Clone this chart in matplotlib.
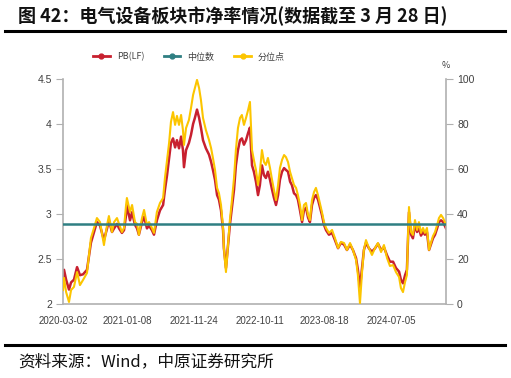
import matplotlib
matplotlib.use("Agg")
import matplotlib.pyplot as plt
from matplotlib.lines import Line2D
import pandas as pd

plt.rcParams['font.family'] = ['Noto Sans CJK SC', 'DejaVu Sans']

title = "图 42：电气设备板块市净率情况(数据截至 3 月 28 日)"
source = "资料来源：Wind，中原证券研究所"
series_names = ["PB(LF)", "中位数", "分位点"]

start_date = "2020-03-02"
days_since_start = [
    0, 5, 15, 29, 39, 53, 68, 82, 97, 116, 135, 150, 164, 179, 198, 213, 222, 237, 247, 261,
    271, 285, 295, 305, 309, 324, 334, 348, 358, 367, 382, 392, 406, 416, 430, 440, 454, 469, 484, 493,
    503, 513, 522, 532, 542, 551, 561, 571, 580, 585, 595, 609, 619, 629, 638, 648, 658, 667, 677, 691,
    706, 716, 725, 735, 745, 754, 764, 774, 778, 788, 798, 807, 817, 827, 836, 846, 856, 865, 875, 885,
    895, 904, 914, 923, 933, 943, 952, 962, 972, 981, 991, 1001, 1011, 1020, 1030, 1040, 1049, 1059, 1069, 1078,
    1088, 1098, 1107, 1117, 1127, 1136, 1146, 1156, 1165, 1175, 1185, 1194, 1204, 1214, 1223, 1233, 1243, 1252, 1262, 1272,
    1286, 1301, 1315, 1330, 1344, 1359, 1373, 1388, 1402, 1417, 1426, 1436, 1446, 1455, 1465, 1479, 1494, 1509, 1523, 1538,
    1552, 1567, 1581, 1596, 1610, 1625, 1634, 1644, 1654, 1663, 1668, 1673, 1683, 1692, 1702, 1712, 1721, 1731, 1741, 1750,
    1760, 1770, 1779, 1789, 1799, 1809, 1818, 1828, 1838, 1852,
]

pb_lf = [
    2.23, 2.38, 2.27, 2.16, 2.24, 2.27, 2.41, 2.32, 2.33, 2.38, 2.68, 2.80, 2.91, 2.87, 2.71, 2.84, 2.93, 2.80, 2.84, 2.89,
    2.84, 2.79, 2.82, 2.99, 3.10, 2.93, 3.02, 2.88, 2.84, 2.77, 2.91, 2.97, 2.84, 2.87, 2.82, 2.77, 2.93, 3.04, 3.10, 3.27,
    3.43, 3.62, 3.79, 3.84, 3.74, 3.82, 3.73, 3.86, 3.71, 3.52, 3.71, 3.79, 3.88, 4.00, 4.07, 4.16, 4.07, 3.96, 3.82, 3.73,
    3.66, 3.58, 3.49, 3.38, 3.21, 3.16, 3.04, 2.82, 2.62, 2.40, 2.66, 2.88, 3.07, 3.27, 3.54, 3.71, 3.82, 3.84, 3.77, 3.82,
    3.90, 3.96, 3.54, 3.47, 3.36, 3.21, 3.32, 3.54, 3.43, 3.40, 3.47, 3.38, 3.27, 3.18, 3.10, 3.21, 3.38, 3.47, 3.51, 3.49,
    3.47, 3.36, 3.32, 3.23, 3.21, 3.16, 3.04, 2.91, 3.04, 3.07, 2.96, 2.91, 3.10, 3.18, 3.21, 3.16, 3.07, 2.99, 2.88, 2.82,
    2.77, 2.79, 2.71, 2.62, 2.68, 2.66, 2.60, 2.66, 2.60, 2.51, 2.38, 2.18, 2.40, 2.60, 2.68, 2.62, 2.58, 2.62, 2.67, 2.60,
    2.63, 2.54, 2.47, 2.47, 2.40, 2.36, 2.27, 2.23, 2.32, 2.38, 2.71, 3.02, 2.77, 2.73, 2.88, 2.80, 2.84, 2.76, 2.80, 2.77,
    2.80, 2.60, 2.66, 2.73, 2.77, 2.84, 2.91, 2.93, 2.91, 2.84,
]

percentile = [
    6.2, 11.6, 5.3, 0.9, 6.2, 7.6, 14.2, 8.4, 10.7, 13.8, 29.3, 33.8, 38.2, 36.4, 26.2, 35.1, 39.1, 32.0, 36.4, 38.2,
    35.6, 32.0, 33.8, 44.0, 47.1, 40.9, 44.0, 36.4, 35.6, 30.7, 38.2, 41.8, 35.1, 36.4, 33.8, 31.6, 40.9, 44.9, 47.1, 56.0,
    64.0, 71.6, 80.9, 85.3, 79.6, 83.6, 79.6, 84.0, 77.3, 70.7, 78.2, 81.8, 87.1, 92.9, 96.0, 99.6, 96.0, 90.7, 82.7, 77.3,
    72.9, 69.3, 64.9, 59.6, 51.6, 49.3, 44.0, 33.8, 24.9, 14.2, 26.2, 37.3, 46.2, 56.0, 68.4, 78.2, 82.7, 84.0, 79.6, 82.7,
    86.2, 89.8, 68.4, 64.0, 59.6, 52.9, 58.7, 68.4, 63.1, 61.8, 64.9, 60.4, 55.1, 50.7, 46.2, 52.9, 60.4, 64.0, 66.2, 65.3,
    63.1, 58.7, 56.0, 52.9, 51.6, 48.4, 44.0, 37.3, 44.0, 44.9, 39.6, 37.3, 46.2, 49.8, 51.6, 48.4, 44.4, 40.9, 36.4, 33.8,
    31.6, 32.9, 29.3, 24.9, 27.6, 27.1, 24.0, 27.1, 24.0, 19.6, 12.9, 0.4, 14.2, 24.0, 28.4, 24.9, 21.8, 24.9, 27.1, 23.1,
    26.2, 20.4, 16.9, 17.3, 14.2, 12.0, 7.1, 5.3, 9.8, 12.9, 29.3, 43.1, 32.0, 30.7, 37.3, 32.9, 36.4, 31.6, 33.8, 31.6,
    33.8, 24.0, 27.1, 30.2, 32.0, 35.1, 38.2, 39.6, 38.2, 35.1,
]

median_pb = 2.89

left_ticks = [2, 2.5, 3, 3.5, 4, 4.5]
left_labels = ["2", "2.5", "3", "3.5", "4", "4.5"]
right_ticks = [0, 20, 40, 60, 80, 100]
x_tick_labels = ["2020-03-02", "2021-01-08", "2021-11-24", "2022-10-11", "2023-08-18", "2024-07-05"]

dates = pd.Timestamp(start_date) + pd.to_timedelta(days_since_start, unit="D")

RED = "#c8202f"
TEAL = "#2f7f82"
YELLOW = "#fcc500"
GRAY = "#b0b0b0"
TXT = "#404040"

fig = plt.figure(figsize=(5.11, 3.78), dpi=100)
ax = fig.add_axes([63 / 511, 1 - 304 / 378, (446 - 63) / 511, (304 - 79) / 378])
ax2 = ax.twinx()

ax.plot(dates, pb_lf, color=RED, lw=1.8, zorder=2)
ax2.plot(dates, percentile, color=YELLOW, lw=1.5, zorder=3)
# median line drawn on the top axes but in left-axis data coordinates
ax2.plot([dates[0], dates[-1]], [median_pb, median_pb], color=TEAL, lw=1.8, zorder=5,
         transform=ax.transData)

ax.set_ylim(2, 4.5)
ax2.set_ylim(0, 100)
ax.set_xlim(pd.Timestamp(start_date), dates[-1])

ax.set_yticks(left_ticks)
ax.set_yticklabels(left_labels)
ax2.set_yticks(right_ticks)
ax.set_xticks(pd.to_datetime(x_tick_labels))
ax.set_xticklabels(x_tick_labels)

for a in (ax, ax2):
    for s in a.spines.values():
        s.set_visible(False)
ax.spines['left'].set_visible(True)
ax.spines['bottom'].set_visible(True)
ax2.spines['right'].set_visible(True)
for s in (ax.spines['left'], ax.spines['bottom'], ax2.spines['right']):
    s.set_color(GRAY)
    s.set_linewidth(1.2)

ax.tick_params(axis='y', length=5, color=GRAY, labelsize=7.5, labelcolor=TXT, pad=3)
ax2.tick_params(axis='y', length=5, color=GRAY, labelsize=7.5, labelcolor=TXT, pad=3)
ax.tick_params(axis='x', length=0, labelsize=7, labelcolor=TXT, pad=9)
for lab in ax.get_xticklabels() + ax.get_yticklabels() + ax2.get_yticklabels():
    lab.set_fontfamily(['Liberation Sans', 'DejaVu Sans'])

fig.text(446 / 511, 1 - 66 / 378, "%", fontsize=6.5, color=TXT, ha='center', va='center')

# title and rules
fig.text(18 / 511, 1 - 16 / 378, title, fontsize=13, fontweight='bold', color='#111111',
         ha='left', va='center')
fig.add_artist(Line2D([5 / 511, 505 / 511], [1 - 31 / 378, 1 - 31 / 378], color='black', lw=2.2))
fig.add_artist(Line2D([5 / 511, 505 / 511], [1 - 345 / 378, 1 - 345 / 378], color='black', lw=2.2))
fig.text(18 / 511, 1 - 362 / 378, source, fontsize=12, color='#111111', ha='left', va='center')

# legend
handles = [
    Line2D([], [], color=RED, lw=2, marker='o', markersize=3.5),
    Line2D([], [], color=TEAL, lw=2, marker='o', markersize=3.5),
    Line2D([], [], color=YELLOW, lw=2, marker='o', markersize=3.5),
]
leg = fig.legend(handles, series_names, loc='center', bbox_to_anchor=(0.37, 1 - 57 / 378),
                 ncol=3, frameon=False, fontsize=6.5, handlelength=1.8, handletextpad=0.8,
                 columnspacing=2.2, labelcolor=TXT)

fig.savefig("out.png", dpi=100)
